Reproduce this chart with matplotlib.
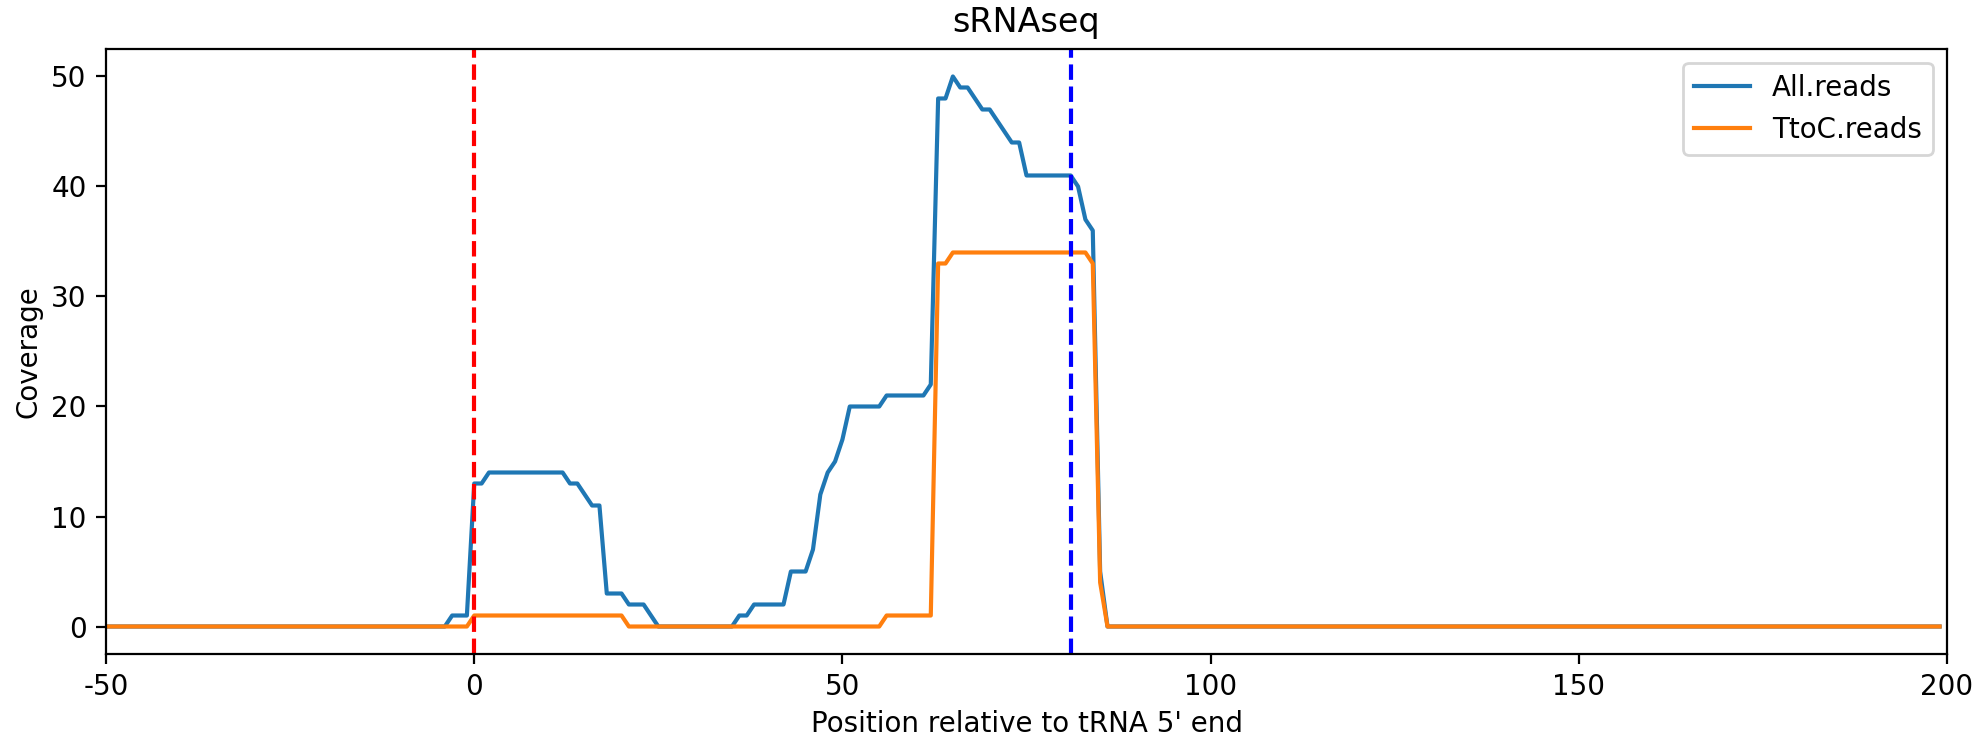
import numpy as np
import matplotlib.pyplot as plt

plt.rcParams['axes.unicode_minus'] = False

positions = np.arange(-50, 200)

all_reads = ([0] * 47 + [1, 1, 1] + [13, 13] + [14] * 11 + [13, 13] + [12, 11, 11]
             + [3, 3, 3] + [2, 2, 2] + [1] + [0] * 11 + [1, 1] + [2] * 5 + [5] * 3
             + [7, 12, 14, 15, 17] + [20] * 5 + [21] * 6 + [22]
             + [48, 48, 50, 49, 49, 48, 47, 47, 46, 45, 44, 44] + [41] * 7
             + [40, 37, 36, 5] + [0] * 114)

ttoc_reads = ([0] * 50 + [1] * 21 + [0] * 35 + [1] * 7 + [33, 33] + [34] * 19
              + [33, 4] + [0] * 114)

tss_pos = 0
end_pos = 81

fig = plt.figure(figsize=(9.895, 3.705), dpi=200)
ax = fig.add_subplot(111)
fig.subplots_adjust(left=0.0536, right=0.9838, top=0.9339, bottom=0.1174)

ax.plot(positions, all_reads, label='All.reads')
ax.plot(positions, ttoc_reads, label='TtoC.reads')
ax.axvline(x=tss_pos, color='r', linestyle='--')
ax.axvline(x=end_pos, color='b', linestyle='--')

ax.set_xlim(-50, 200)
ax.set_xticks([-50, 0, 50, 100, 150, 200])
ax.set_title('sRNAseq')
ax.set_xlabel("Position relative to tRNA 5' end", labelpad=3)
ax.set_ylabel('Coverage', labelpad=3)
ax.legend(loc='upper right')

plt.savefig('out.png', dpi=200)
